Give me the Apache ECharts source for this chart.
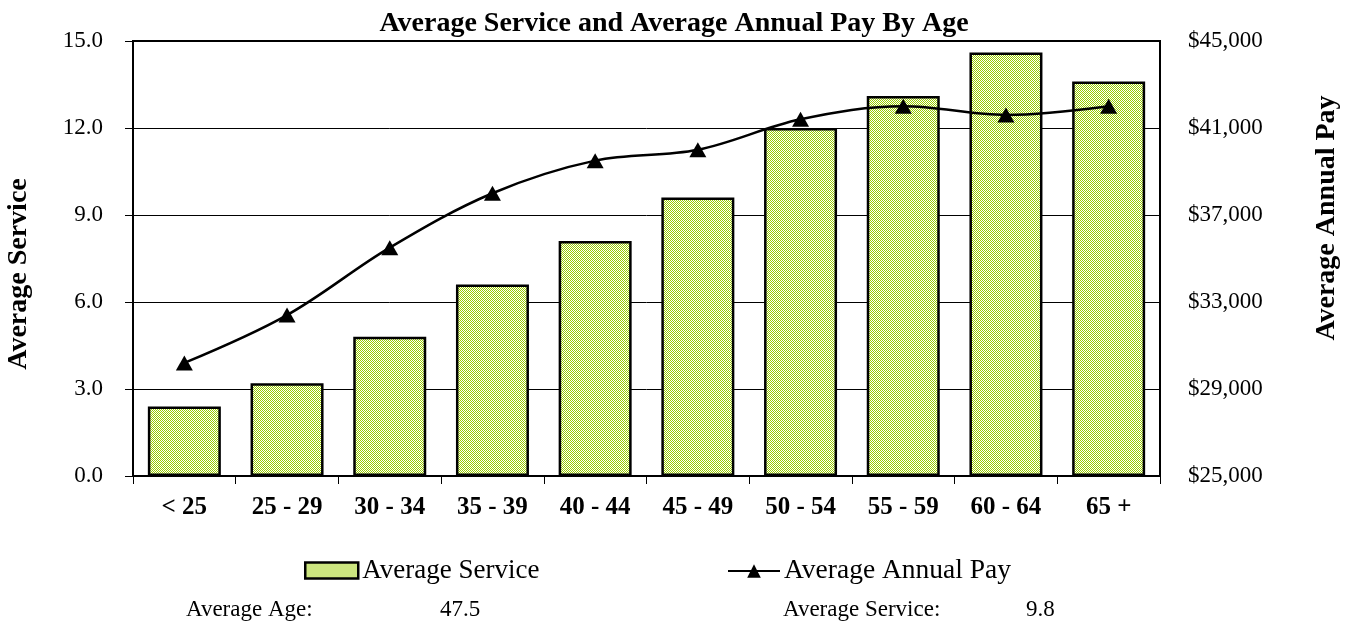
<!DOCTYPE html>
<html>
<head>
<meta charset="utf-8">
<script src="https://cdn.jsdelivr.net/npm/echarts@6/dist/echarts.min.js"></script>
<style>
html,body{margin:0;padding:0;background:#fff;}
#chart{width:1349px;height:640px;}
</style>
</head>
<body>
<div id="chart"></div>
<script>
const categories = ['< 25', '25 - 29', '30 - 34', '35 - 39', '40 - 44', '45 - 49', '50 - 54', '55 - 59', '60 - 64', '65 +'];
const averageService = [2.4, 3.2, 4.8, 6.6, 8.1, 9.6, 12.0, 13.1, 14.6, 13.6];
const averageAnnualPay = [30200, 32400, 35500, 38000, 39500, 40000, 41400, 42000, 41600, 42000];
const summaryLabels = ['Average Age:', 'Average Service:'];
const summaryValues = ['47.5', '9.8'];

const FONT = '"Liberation Serif", "Times New Roman", serif';

const pc = document.createElement('canvas');
pc.width = 2; pc.height = 2;
const pctx = pc.getContext('2d');
pctx.fillStyle = '#ffffff'; pctx.fillRect(0, 0, 2, 2);
pctx.fillStyle = '#99cc00';
pctx.fillRect(0, 0, 1, 1);
pctx.fillRect(1, 1, 1, 1);
const pattern = { image: pc, repeat: 'repeat' };

const chart = echarts.init(document.getElementById('chart'), null, { renderer: 'canvas' });

chart.setOption({
  animation: false,
  backgroundColor: '#fff',
  title: {
    text: 'Average Service and Average Annual Pay By Age',
    left: 669, textAlign: 'center', top: 5,
    textStyle: { fontFamily: FONT, fontWeight: 'bold', fontSize: 28, color: '#000' }
  },
  grid: {
    left: 133, right: 189, top: 41, bottom: 164,
    show: true, borderColor: '#000', borderWidth: 2, backgroundColor: 'transparent'
  },
  legend: [
    {
      data: [{ name: 'Average Service', icon: 'rect',
        itemStyle: { color: pattern, borderColor: '#000', borderWidth: 2.5, opacity: 1 } }],
      left: 304, top: 557, padding: 0,
      itemWidth: 53, itemHeight: 16, itemGap: 6,
      textStyle: { fontFamily: FONT, fontSize: 27, color: '#000', padding: [0, 0, 0, -1] }
    },
    {
      data: ['Average Annual Pay'], left: 727, top: 557, padding: 0,
      itemWidth: 52, itemHeight: 17, itemGap: 6,
      textStyle: { fontFamily: FONT, fontSize: 27.5, color: '#000', padding: [0, 0, 0, -1] }
    }
  ],
  xAxis: {
    type: 'category',
    data: categories,
    axisLine: { show: true, lineStyle: { color: '#000', width: 2 } },
    axisTick: { show: true, length: 8, lineStyle: { color: '#000', width: 1 } },
    axisLabel: { margin: 19, fontFamily: FONT, fontWeight: 'bold', fontSize: 25, color: '#000' },
    splitLine: { show: false }
  },
  yAxis: [
    {
      type: 'value', min: 0, max: 15, interval: 3,
      axisLine: { show: true, lineStyle: { color: '#000', width: 2 } },
      axisTick: { show: true, length: 8, lineStyle: { color: '#000', width: 1 } },
      axisLabel: { margin: 30, fontFamily: FONT, fontSize: 23, color: '#000', formatter: v => v.toFixed(1) },
      splitLine: { show: true, lineStyle: { color: '#000', width: 1 } }
    },
    {
      type: 'value', min: 25000, max: 45000, interval: 4000,
      axisLine: { show: true, lineStyle: { color: '#000', width: 2 } },
      axisTick: { show: false },
      axisLabel: { margin: 28, fontFamily: FONT, fontSize: 23, color: '#000',
        formatter: v => '$' + v.toLocaleString('en-US') },
      splitLine: { show: false }
    }
  ],
  series: [
    {
      name: 'Average Service', type: 'bar', yAxisIndex: 0,
      data: averageService, barWidth: 73,
      itemStyle: { color: pattern, borderColor: '#000', borderWidth: 2.5 }
    },
    {
      name: 'Average Annual Pay', type: 'line', yAxisIndex: 1,
      data: averageAnnualPay, smooth: 0.35,
      symbol: 'triangle', symbolSize: [17, 15],
      itemStyle: { color: '#000' },
      lineStyle: { color: '#000', width: 2.5 }
    }
  ],
  graphic: [
    { type: 'text', x: 19, y: 274, rotation: Math.PI / 2,
      style: { text: 'Average Service', font: 'bold 28px ' + FONT, fill: '#000', align: 'center', verticalAlign: 'middle' } },
    { type: 'text', x: 1327, y: 218, rotation: Math.PI / 2,
      style: { text: 'Average Annual Pay', font: 'bold 28px ' + FONT, fill: '#000', align: 'center', verticalAlign: 'middle' } },
    { type: 'text', left: 186, top: 598, style: { text: summaryLabels[0], font: '23px ' + FONT, fill: '#000' } },
    { type: 'text', left: 440, top: 598, style: { text: summaryValues[0], font: '23px ' + FONT, fill: '#000' } },
    { type: 'text', left: 783, top: 598, style: { text: summaryLabels[1], font: '23px ' + FONT, fill: '#000' } },
    { type: 'text', left: 1026, top: 598, style: { text: summaryValues[1], font: '23px ' + FONT, fill: '#000' } }
  ]
});
</script>
</body>
</html>
